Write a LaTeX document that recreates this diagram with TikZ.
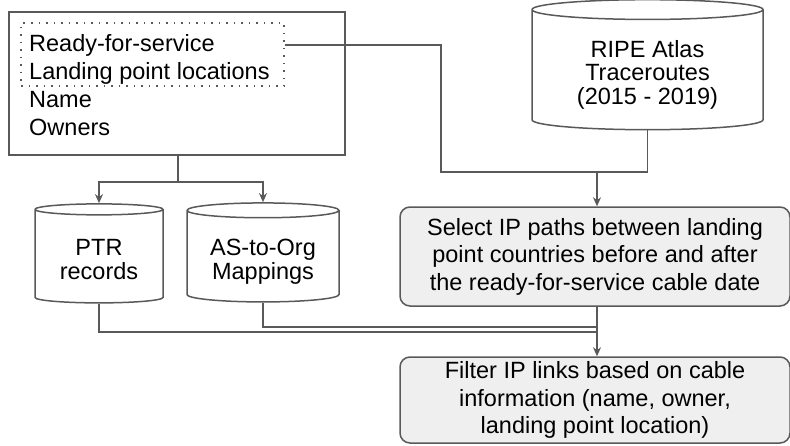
\documentclass[tikz,border=0pt]{standalone}
\usepackage{fontspec}
\setmainfont{Liberation Sans}
\usepackage{tikz}
\usetikzlibrary{arrows.meta,
                positioning,
                shapes.geometric}

\definecolor{linegray}{HTML}{595959}
\definecolor{boxgray}{HTML}{EFEFEF}

% cylinder text sits a bit below the middle
\newcommand{\dblines}[1]{\raisebox{-6pt}[\height][\depth]{\begin{tabular}{@{}c@{}}#1\end{tabular}}}

\tikzset{
    txt/.style={inner sep=0pt, font=\fontsize{23.5}{27.5}\selectfont},
    line/.style={draw=linegray, line width=1.5pt},
    arrow/.style={line, -{Stealth[length=9pt, width=8pt]}},
    srcbox/.style={draw=linegray, line width=1.5pt, inner sep=0pt},
    dotbox/.style={draw=linegray, line width=1.5pt, dash pattern=on 1.5pt off 6pt, inner sep=0pt},
    db/.style={cylinder, shape border rotate=90, aspect=0.14, draw=linegray,
               line width=1.5pt, inner sep=0pt,
               font=\fontsize{23.5}{23}\selectfont},
    stepbox/.style={rounded corners=10pt, draw=linegray, fill=boxgray,
                    line width=1.5pt, align=center, inner sep=0pt,
                    font=\fontsize{23.5}{27.5}\selectfont}
}

\begin{document}
\begin{tikzpicture}[x=1pt, y=-1pt]
    \useasboundingbox (0,0) rectangle (790,445);

    % cable data box
    \node[srcbox, minimum width=336pt, minimum height=143pt] (cable) at (177,83.5) {};
    \node[txt, anchor=base west] (ready) at (29,51) {Ready-for-service};
    \node[txt, anchor=base west] (landing) at (29,79) {Landing point locations};
    \node[txt, anchor=base west] (name) at (29,107) {Name};
    \node[txt, anchor=base west] (owners) at (29,135) {Owners};
    \node[dotbox, minimum width=263pt, minimum height=63pt] (rfs) at (152.5,54.5) {};

    % data sources
    \node[db, minimum width=231pt, minimum height=130pt] (ripe) at (647.5,70)
        {\dblines{RIPE Atlas\\Traceroutes\\(2015 - 2019)}};
    \node[db, minimum width=128pt, minimum height=99pt] (ptr) at (99,256.5)
        {\dblines{PTR\\records}};
    \node[db, minimum width=152pt, minimum height=99pt] (asorg) at (263,256.5)
        {\dblines{AS-to-Org\\Mappings}};

    % processing steps
    \node[stepbox, minimum width=390pt, minimum height=99pt] (select) at (595,256.5)
        {Select IP paths between landing\\point countries before and after\\the ready-for-service cable date};
    \node[stepbox, minimum width=390pt, minimum height=86pt] (filter) at (595,400)
        {Filter IP links based on cable\\information (name, owner,\\landing point location)};

    \coordinate (split) at (178,182);
    \coordinate (bend) at (441,172);
    \coordinate (merge) at (597,172);
    \coordinate (ptrin) at (597,332);
    \coordinate (asin) at (597,327);

    \draw[line] (cable.south -| split) -- (split);
    \draw[arrow] (split) -| (ptr.north);
    \draw[arrow] (split) -| (asorg.north);

    \draw[line] (rfs.east |- ready) -| (bend) -- (merge);
    \draw[line] (ripe.south) |- (merge);
    \draw[arrow] (merge) -- (merge |- select.north);

    \draw[line] (ptr.south) |- (ptrin);
    \draw[line] (asorg.south) |- (asin);
    \draw[arrow] (select.south -| merge) -- (merge |- filter.north);
\end{tikzpicture}
\end{document}
